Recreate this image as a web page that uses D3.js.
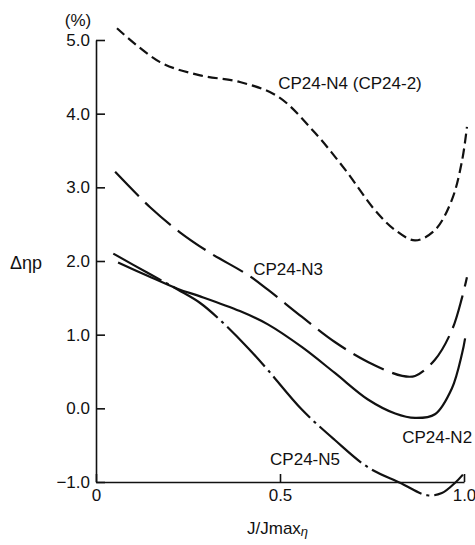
<!DOCTYPE html>
<html>
<head>
<meta charset="utf-8">
<script src="https://cdn.jsdelivr.net/npm/d3@7"></script>
<style>
  body { margin: 0; background: #fff; }
  svg text { font-family: "Liberation Sans", Arial, sans-serif; fill: #111; }
</style>
</head>
<body>
<svg></svg>
<script>
// J/Jmax values and delta eta p (%)
var jN4 = [0.057, 0.174, 0.283, 0.391, 0.495, 0.595, 0.677, 0.758, 0.813, 0.867, 0.921, 0.967, 0.995, 1.008];
var dN4 = [5.16, 4.70, 4.52, 4.43, 4.23, 3.74, 3.24, 2.69, 2.42, 2.28, 2.42, 2.83, 3.37, 3.82];

var jN3 = [0.052, 0.147, 0.228, 0.31, 0.413, 0.467, 0.56, 0.649, 0.739, 0.832, 0.867, 0.921, 0.967, 0.995, 1.008];
var dN3 = [3.21, 2.73, 2.39, 2.11, 1.81, 1.61, 1.24, 0.90, 0.63, 0.44, 0.44, 0.66, 1.06, 1.51, 1.78];

var jN2 = [0.06, 0.14, 0.223, 0.283, 0.391, 0.467, 0.56, 0.649, 0.739, 0.813, 0.867, 0.921, 0.967, 0.995, 1.003];
var dN2 = [1.98, 1.80, 1.62, 1.52, 1.32, 1.14, 0.83, 0.48, 0.12, -0.07, -0.13, -0.08, 0.27, 0.75, 0.95];

var jN5 = [0.047, 0.14, 0.223, 0.283, 0.337, 0.413, 0.467, 0.56, 0.649, 0.739, 0.826, 0.90, 0.94, 0.976, 0.997];
var dN5 = [2.10, 1.84, 1.61, 1.43, 1.20, 0.82, 0.52, -0.02, -0.43, -0.80, -1.01, -1.18, -1.15, -1.01, -0.90];

var yTicks = [-1, 0, 1, 2, 3, 4, 5];
var xTicks = [0, 0.5, 1.0];
var xTickLabels = ["0", "0.5", "1.0"];

// curve names with the spot (in data units) where each name sits
var labelNames = ["CP24-N4 (CP24-2)", "CP24-N3", "CP24-N2", "CP24-N5"];
var labelJ = [0.495, 0.427, 0.832, 0.473];
var labelD = [4.33, 1.81, -0.47, -0.77];

var width = 475,
    height = 545;

var svg = d3.select("svg")
  .attr("width", width)
  .attr("height", height);

var xScale = d3.scaleLinear()
  .domain([0, 1])
  .range([96, 464]);

var yScale = d3.scaleLinear()
  .domain([-1, 5])
  .range([482, 40]);

var series = [
  { j: jN4, d: dN4, dash: "10,5" },
  { j: jN3, d: dN3, dash: "34,9" },
  { j: jN2, d: dN2, dash: null },
  { j: jN5, d: dN5, dash: "55,5,3,5" }
];

var line = d3.line()
  .x(function(p){ return xScale(p[0]); })
  .y(function(p){ return yScale(p[1]); })
  .curve(d3.curveCatmullRom.alpha(0.5));

series.forEach(function(s){
  var pts = s.j.map(function(v, i){ return [v, s.d[i]]; });
  svg.append("path")
    .datum(pts)
    .attr("d", line)
    .attr("fill", "none")
    .attr("stroke", "#111")
    .attr("stroke-width", 2.2)
    .attr("stroke-dasharray", s.dash);
});

// axes, ticks pointing inward
var yAxis = d3.axisLeft(yScale)
  .tickValues(yTicks)
  .tickFormat(d3.format(".1f"))
  .tickSizeInner(-9)
  .tickSizeOuter(0)
  .tickPadding(6);

var xAxis = d3.axisBottom(xScale)
  .tickValues(xTicks)
  .tickFormat(function(d, i){ return xTickLabels[i]; })
  .tickSizeInner(-8)
  .tickSizeOuter(0)
  .tickPadding(7);

var gy = svg.append("g")
  .attr("transform", "translate(" + xScale(0) + ",0)")
  .call(yAxis);

var gx = svg.append("g")
  .attr("transform", "translate(0," + yScale(-1) + ")")
  .call(xAxis);

[gy, gx].forEach(function(g){
  g.selectAll("path, line").attr("stroke", "#111").attr("stroke-width", 1.6);
  g.selectAll("text")
    .style("font-family", "'Liberation Sans', Arial, sans-serif")
    .style("font-size", "17px")
    .attr("fill", "#111");
});

// curve names
labelNames.forEach(function(name, i){
  svg.append("text")
    .attr("x", xScale(labelJ[i]))
    .attr("y", yScale(labelD[i]))
    .style("font-size", "17px")
    .text(name);
});

// axis titles
svg.append("text")
  .attr("x", 78)
  .attr("y", 26)
  .attr("text-anchor", "middle")
  .style("font-size", "17px")
  .text("(%)");

svg.append("text")
  .attr("x", 10)
  .attr("y", 269)
  .style("font-size", "18px")
  .text("Δηp");

var xt = svg.append("text")
  .attr("x", 247)
  .attr("y", 534)
  .style("font-size", "17px");
xt.append("tspan").text("J/Jmax");
xt.append("tspan")
  .attr("dy", 2)
  .style("font-size", "13px")
  .style("font-style", "italic")
  .text("η");
</script>
</body>
</html>
